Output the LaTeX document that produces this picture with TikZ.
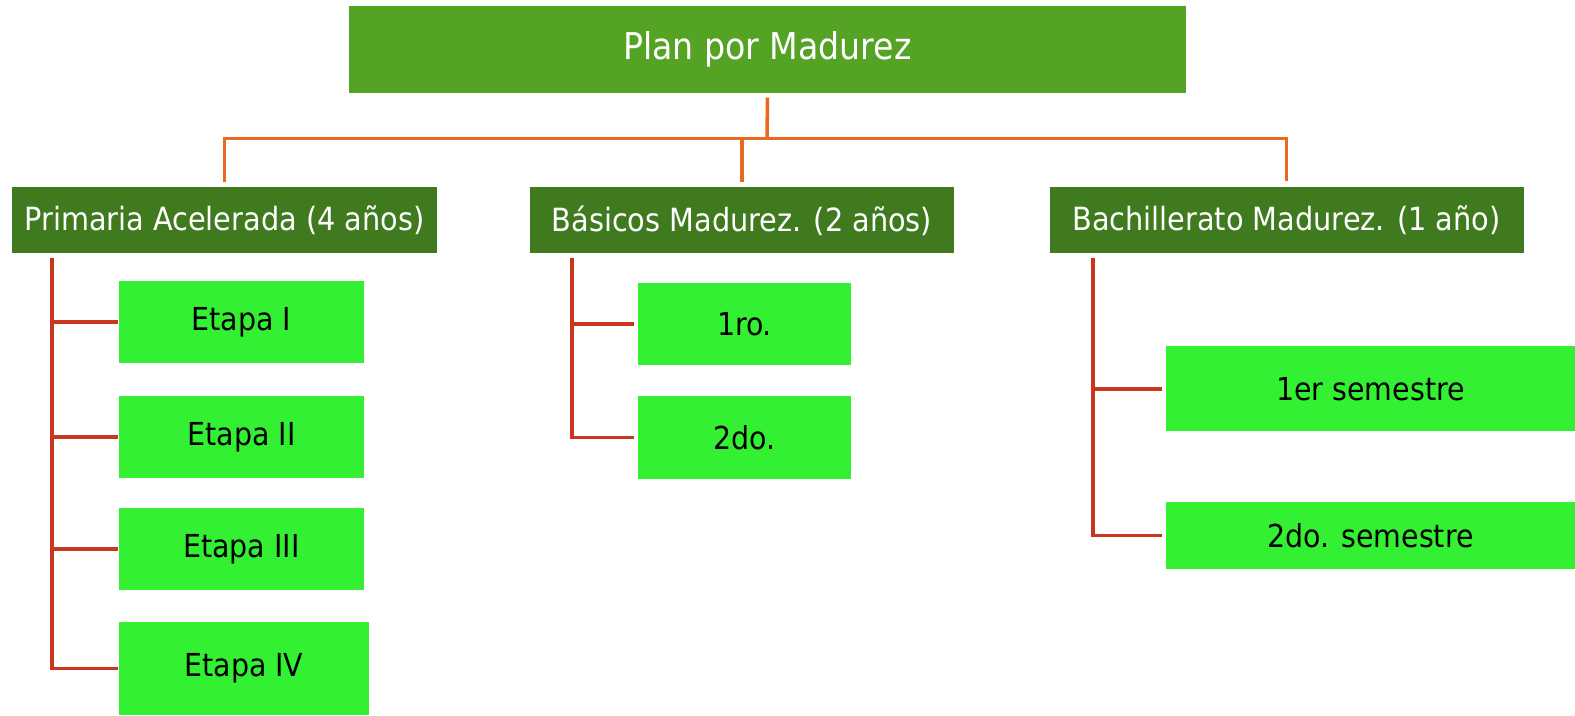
\documentclass[tikz,border=0pt]{standalone}
\usepackage{fontspec}
\setmainfont{DejaVu Sans Condensed}
\definecolor{plangreen}{HTML}{55A325}
\definecolor{leveldark}{HTML}{3F7A1E}
\definecolor{itemlime}{HTML}{33F033}
\definecolor{busorange}{HTML}{E8691F}
\definecolor{spinered}{HTML}{C8361C}
\tikzset{
  planbox/.style={fill=plangreen,text=white,inner sep=0pt,minimum width=8.37cm,minimum height=0.87cm,font=\fontsize{10.5}{12}\selectfont},
  levelbox/.style={fill=leveldark,text=white,inner sep=0pt,minimum height=0.66cm,font=\fontsize{9.1}{11}\selectfont},
  itembox/.style={fill=itemlime,text=black,inner sep=0pt,font=\fontsize{9}{11}\selectfont},
  busline/.style={draw=busorange,line width=1pt},
  spineline/.style={draw=spinered,line width=1pt}
}
\begin{document}
\begin{tikzpicture}
		\useasboundingbox (0,0) rectangle (15.75,-7.16);
		% top of the plan
		\node[planbox] (plan) at (7.675,-0.495) {Plan por Madurez};
		
		% three levels
		\node[levelbox,minimum width=4.25cm] (primaria) at (2.245,-2.205) {Primaria Acelerada (4 años)};
		\node[levelbox,minimum width=4.24cm] (basicos) at (7.42,-2.205) {Básicos Madurez. (2 años)};
		\node[levelbox,minimum width=4.74cm] (bach) at (12.865,-2.2) {Bachillerato Madurez. (1 año)};
		
		% items of each level
		\node[itembox,minimum width=2.45cm,minimum height=0.82cm] (etapa1) at (2.415,-3.22) {Etapa I};
		\node[itembox,minimum width=2.45cm,minimum height=0.82cm] (etapa2) at (2.415,-4.37) {Etapa II};
		\node[itembox,minimum width=2.45cm,minimum height=0.82cm] (etapa3) at (2.415,-5.49) {Etapa III};
		\node[itembox,minimum width=2.50cm,minimum height=0.93cm] (etapa4) at (2.44,-6.685) {Etapa IV};
		\node[itembox,minimum width=2.13cm,minimum height=0.82cm] (primero) at (7.445,-3.24) {1ro.};
		\node[itembox,minimum width=2.13cm,minimum height=0.83cm] (segundo) at (7.445,-4.375) {2do.};
		\node[itembox,minimum width=4.09cm,minimum height=0.85cm] (sem1) at (13.705,-3.89) {1er semestre};
		\node[itembox,minimum width=4.09cm,minimum height=0.67cm] (sem2) at (13.705,-5.355) {2do. semestre};
		
		% orange bus
		\coordinate (bus) at (7.67,-1.385);
		\draw[busline] ([yshift=-0.04cm]plan.south) -- (bus);
		\draw[busline] ([yshift=0.05cm]primaria.north) |- (bus) -| ([yshift=0.05cm]bach.north);
		\draw[busline] ([yshift=0.05cm]basicos.north) -- (basicos.north |- bus);
		
		% red spines
		\coordinate (pspine) at (0.52,-2.58);
		\coordinate (bspine) at (5.72,-2.58);
		\coordinate (cspine) at (10.93,-2.58);
		\draw[spineline] (pspine) |- (etapa4.west);
		\foreach \n in {etapa1,etapa2,etapa3}
		  \draw[spineline] (pspine |- \n.west) -- (\n.west);
		\draw[spineline] (bspine) |- ([xshift=-0.03cm]segundo.west);
		\draw[spineline] (bspine |- primero.west) -- ([xshift=-0.03cm]primero.west);
		\draw[spineline] (cspine) |- ([xshift=-0.03cm]sem2.west);
		\draw[spineline] (cspine |- sem1.west) -- ([xshift=-0.03cm]sem1.west);
		
		\end{tikzpicture}
\end{document}
